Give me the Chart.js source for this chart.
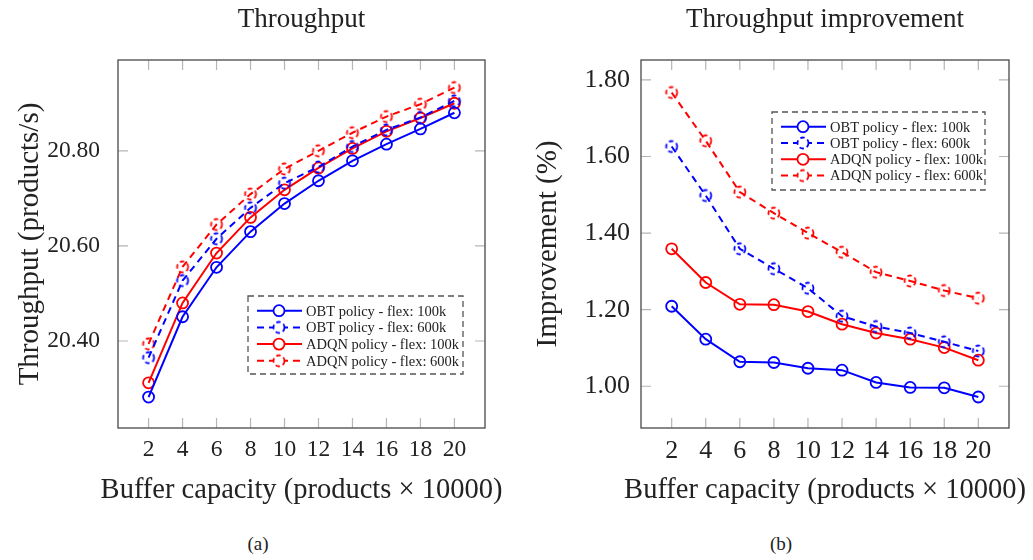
<!DOCTYPE html>
<html>
<head>
<meta charset="utf-8">
<script src="https://cdn.jsdelivr.net/npm/chart.js@4.4.1/dist/chart.umd.min.js"></script>
<style>
  body { margin:0; background:#fff; width:1033px; height:560px; overflow:hidden; position:relative; font-family:'Liberation Serif', serif; }
  .wrap { position:absolute; top:0; height:520px; }
  .cap { position:absolute; top:533px; font-size:19px; color:#222; transform:translateX(-50%); }
</style>
</head>
<body>
<div class="wrap" style="left:0;width:520px;"><canvas id="chart-thr"></canvas></div>
<div class="wrap" style="left:520px;width:513px;"><canvas id="chart-imp"></canvas></div>
<div class="cap" style="left:258px;">(a)</div>
<div class="cap" style="left:781px;">(b)</div>
<script>
// ---- data ----
var bufferCap = [2, 4, 6, 8, 10, 12, 14, 16, 18, 20];
var seriesNames = ['OBT policy - flex: 100k', 'OBT policy - flex: 600k', 'ADQN policy - flex: 100k', 'ADQN policy - flex: 600k'];

var thrObt100  = [20.282, 20.451, 20.555, 20.630, 20.689, 20.737, 20.779, 20.814, 20.846, 20.880];
var thrObt600  = [20.365, 20.527, 20.615, 20.680, 20.732, 20.766, 20.809, 20.844, 20.870, 20.905];
var thrAdqn100 = [20.312, 20.480, 20.585, 20.660, 20.718, 20.764, 20.805, 20.841, 20.869, 20.900];
var thrAdqn600 = [20.394, 20.556, 20.645, 20.709, 20.762, 20.800, 20.838, 20.872, 20.898, 20.933];

var impObt100  = [1.209, 1.123, 1.064, 1.062, 1.047, 1.042, 1.010, 0.997, 0.996, 0.972];
var impObt600  = [1.626, 1.498, 1.359, 1.307, 1.256, 1.183, 1.156, 1.139, 1.116, 1.092];
var impAdqn100 = [1.359, 1.271, 1.214, 1.213, 1.195, 1.162, 1.139, 1.123, 1.101, 1.068];
var impAdqn600 = [1.767, 1.641, 1.507, 1.452, 1.400, 1.350, 1.298, 1.275, 1.250, 1.230];

var thrTicks = [20.40, 20.60, 20.80];
var impTicks = [1.00, 1.20, 1.40, 1.60, 1.80];
var xLabel = 'Buffer capacity (products \u00d7 10000)';

// ---- styling helpers ----
var BLUE = '#0000ff', RED = '#ff0000', INK = '#222', FRAME = '#555';
var DASH = [7, 5];
var SERIF = "'Liberation Serif', serif";

function dashedCircle(color) {
  var c = document.createElement('canvas');
  c.width = 16; c.height = 16;
  var g = c.getContext('2d');
  g.strokeStyle = color; g.lineWidth = 1.8;
  g.setLineDash([4.5, 3]);
  g.beginPath(); g.arc(8, 8, 5.5, 0, Math.PI * 2); g.stroke();
  return c;
}

function pts(arr) {
  return bufferCap.map(function(x, i) { return { x: x, y: arr[i] }; });
}

function makeSets(a, b, c, d) {
  var cols = [BLUE, BLUE, RED, RED];
  return [a, b, c, d].map(function(arr, i) {
    var dashed = i % 2 === 1;
    return {
      label: seriesNames[i], data: pts(arr),
      borderColor: cols[i], borderWidth: 2, borderDash: dashed ? DASH : [],
      pointStyle: dashed ? dashedCircle(cols[i]) : 'circle',
      pointRadius: 5.5, pointBorderWidth: 1.8,
      pointBorderColor: cols[i], pointBackgroundColor: 'rgba(0,0,0,0)',
      tension: 0
    };
  });
}

// frame + inner ticks (pgfplots style)
var framePlugin = {
  id: 'frame',
  beforeDatasetsDraw: function(chart) {
    var a = chart.chartArea, ctx = chart.ctx, L = 10;
    ctx.save();
    ctx.strokeStyle = '#b5b5b5'; ctx.lineWidth = 1.2;
    chart.scales.x.ticks.forEach(function(t) {
      var px = chart.scales.x.getPixelForValue(t.value);
      ctx.beginPath();
      ctx.moveTo(px, a.bottom); ctx.lineTo(px, a.bottom - L);
      ctx.moveTo(px, a.top); ctx.lineTo(px, a.top + L);
      ctx.stroke();
    });
    chart.scales.y.ticks.forEach(function(t) {
      var py = chart.scales.y.getPixelForValue(t.value);
      ctx.beginPath();
      ctx.moveTo(a.left, py); ctx.lineTo(a.left + L, py);
      ctx.moveTo(a.right, py); ctx.lineTo(a.right - L, py);
      ctx.stroke();
    });
    ctx.strokeStyle = FRAME; ctx.lineWidth = 1.4;
    ctx.strokeRect(a.left, a.top, a.right - a.left, a.bottom - a.top);
    ctx.restore();
  },
  // x axis title, wider than the plot so drawn without squeezing
  afterDraw: function(chart) {
    var a = chart.chartArea, ctx = chart.ctx;
    ctx.save();
    ctx.fillStyle = INK; ctx.font = '28.5px ' + SERIF;
    ctx.textAlign = 'center'; ctx.textBaseline = 'middle';
    ctx.fillText(xLabel, (a.left + a.right) / 2, 491);
    ctx.restore();
  }
};

// boxed legend drawn inside the plot
var boxLegend = {
  id: 'boxLegend',
  afterDatasetsDraw: function(chart, args, o) {
    var ctx = chart.ctx;
    ctx.save();
    ctx.fillStyle = '#fff';
    ctx.fillRect(o.x, o.y, o.w, o.h);
    ctx.strokeStyle = FRAME; ctx.lineWidth = 1.3; ctx.setLineDash([6, 4]);
    ctx.strokeRect(o.x, o.y, o.w, o.h);
    chart.data.datasets.forEach(function(ds, i) {
      var cy = o.y + 14.7 + i * o.row;
      var x0 = o.x + 9, x1 = o.x + 54, mx = o.x + 31;
      ctx.strokeStyle = ds.borderColor; ctx.lineWidth = 2;
      ctx.setLineDash(ds.borderDash);
      ctx.beginPath(); ctx.moveTo(x0, cy); ctx.lineTo(x1, cy); ctx.stroke();
      if (typeof ds.pointStyle === 'string') {
        ctx.setLineDash([]); ctx.lineWidth = 1.8;
        ctx.fillStyle = '#fff';
        ctx.beginPath(); ctx.arc(mx, cy, 5.5, 0, Math.PI * 2); ctx.fill(); ctx.stroke();
      } else {
        ctx.fillStyle = '#fff';
        ctx.fillRect(mx - 6, cy - 6, 12, 12);
        ctx.drawImage(ds.pointStyle, mx - 8, cy - 8);
      }
      ctx.setLineDash([]);
      ctx.fillStyle = INK; ctx.font = '14.5px ' + SERIF;
      ctx.textBaseline = 'middle'; ctx.textAlign = 'left';
      ctx.fillText(ds.label, o.x + 58, cy + 1);
    });
    ctx.restore();
  }
};

function makeChart(id, sets, title, yTitle, yMin, yMax, yTicks, cfg) {
  return new Chart(document.getElementById(id), {
    type: 'line',
    data: { datasets: sets },
    plugins: [framePlugin, boxLegend],
    options: {
      responsive: true, maintainAspectRatio: false, animation: false,
      layout: { padding: { left: 0, right: cfg.padRight, top: 0, bottom: 0 } },
      plugins: {
        legend: { display: false }, tooltip: { enabled: false },
        title: { display: true, fullSize: false, text: title, color: INK, font: { family: SERIF, size: 27, weight: 'normal', lineHeight: 1.2 }, padding: { top: 4, bottom: 23.6 } },
        boxLegend: cfg.legend
      },
      scales: {
        x: {
          type: 'linear', min: 0.2, max: 21.8,
          afterBuildTicks: function(s) { s.ticks = bufferCap.map(function(v) { return { value: v }; }); },
          afterFit: function(s) { s.height = 92; },
          grid: { display: false, drawTicks: false }, border: { display: false },
          ticks: { color: INK, font: { family: SERIF, size: cfg.tickSize }, padding: 8, maxRotation: 0, autoSkip: false }
        },
        y: {
          min: yMin, max: yMax,
          afterBuildTicks: function(s) { s.ticks = yTicks.map(function(v) { return { value: v }; }); },
          afterFit: function(s) { s.width = cfg.yWidth; },
          grid: { display: false, drawTicks: false }, border: { display: false },
          ticks: { color: INK, font: { family: SERIF, size: cfg.tickSize }, padding: cfg.yTickPad, callback: function(v) { return v.toFixed(2); } },
          title: { display: true, text: yTitle, color: INK, font: { family: SERIF, size: 29, lineHeight: 1.2 }, padding: { top: cfg.yTitlePad, bottom: 0 } }
        }
      }
    }
  });
}

makeChart('chart-thr', makeSets(thrObt100, thrObt600, thrAdqn100, thrAdqn600),
  'Throughput', 'Throughput (products/s)', 20.217, 20.991, thrTicks,
  { yWidth: 118, yTitlePad: 13, yTickPad: 18, tickSize: 23.5, padRight: 35,
    legend: { x: 248, y: 296, w: 215, h: 78, row: 16.7 } });

makeChart('chart-imp', makeSets(impObt100, impObt600, impAdqn100, impAdqn600),
  'Throughput improvement', 'Improvement (%)', 0.891, 1.852, impTicks,
  { yWidth: 121, yTitlePad: 11, yTickPad: 11, tickSize: 26, padRight: 24,
    legend: { x: 252, y: 112, w: 213, h: 78, row: 16.3 } });
</script>
</body>
</html>
